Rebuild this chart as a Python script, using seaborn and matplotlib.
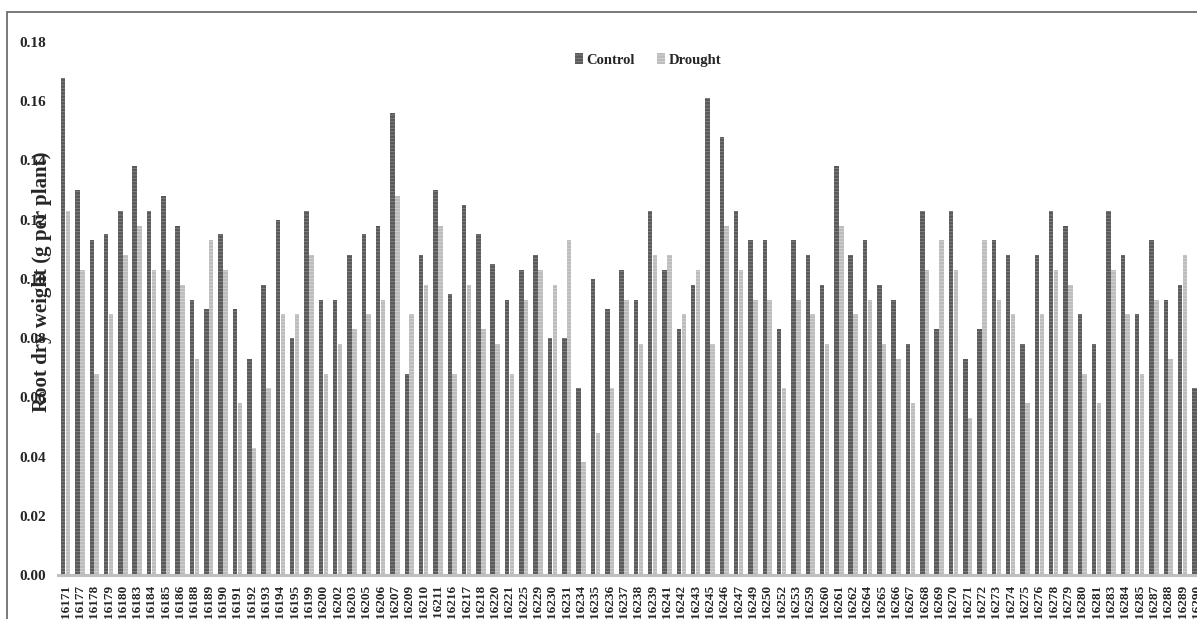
import matplotlib
matplotlib.use("Agg")
import matplotlib.pyplot as plt
from matplotlib.patches import Rectangle
import seaborn as sns
import pandas as pd

# genotypes on the x axis
lines = [
    "16171", "16177", "16178", "16179", "16180", "16183", "16184", "16185", "16186", "16188",
    "16189", "16190", "16191", "16192", "16193", "16194", "16195", "16199", "16200", "16202",
    "16203", "16205", "16206", "16207", "16209", "16210", "16211", "16216", "16217", "16218",
    "16220", "16221", "16225", "16229", "16230", "16231", "16234", "16235", "16236", "16237",
    "16238", "16239", "16241", "16242", "16243", "16245", "16246", "16247", "16249", "16250",
    "16252", "16253", "16259", "16260", "16261", "16262", "16264", "16265", "16266", "16267",
    "16268", "16269", "16270", "16271", "16272", "16273", "16274", "16275", "16276", "16278",
    "16279", "16280", "16281", "16283", "16284", "16285", "16287", "16288", "16289", "16290",
]

control = [
    0.168, 0.130, 0.113, 0.115, 0.123, 0.138, 0.123, 0.128, 0.118, 0.093,
    0.090, 0.115, 0.090, 0.073, 0.098, 0.120, 0.080, 0.123, 0.093, 0.093,
    0.108, 0.115, 0.118, 0.156, 0.068, 0.108, 0.130, 0.095, 0.125, 0.115,
    0.105, 0.093, 0.103, 0.108, 0.080, 0.080, 0.063, 0.100, 0.090, 0.103,
    0.093, 0.123, 0.103, 0.083, 0.098, 0.161, 0.148, 0.123, 0.113, 0.113,
    0.083, 0.113, 0.108, 0.098, 0.138, 0.108, 0.113, 0.098, 0.093, 0.078,
    0.123, 0.083, 0.123, 0.073, 0.083, 0.113, 0.108, 0.078, 0.108, 0.123,
    0.118, 0.088, 0.078, 0.123, 0.108, 0.088, 0.113, 0.093, 0.098, 0.063,
]

drought = [
    0.123, 0.103, 0.068, 0.088, 0.108, 0.118, 0.103, 0.103, 0.098, 0.073,
    0.113, 0.103, 0.058, 0.043, 0.063, 0.088, 0.088, 0.108, 0.068, 0.078,
    0.083, 0.088, 0.093, 0.128, 0.088, 0.098, 0.118, 0.068, 0.098, 0.083,
    0.078, 0.068, 0.093, 0.103, 0.098, 0.113, 0.038, 0.048, 0.063, 0.093,
    0.078, 0.108, 0.108, 0.088, 0.103, 0.078, 0.118, 0.103, 0.093, 0.093,
    0.063, 0.093, 0.088, 0.078, 0.118, 0.088, 0.093, 0.078, 0.073, 0.058,
    0.103, 0.113, 0.103, 0.053, 0.113, 0.093, 0.088, 0.058, 0.088, 0.103,
    0.098, 0.068, 0.058, 0.103, 0.088, 0.068, 0.093, 0.073, 0.108, 0.048,
]

yticks = [0.00, 0.02, 0.04, 0.06, 0.08, 0.10, 0.12, 0.14, 0.16, 0.18]

df = pd.DataFrame({
    "line": lines * 2,
    "weight": control + drought,
    "treatment": ["Control"] * len(lines) + ["Drought"] * len(lines),
})

sns.set_style("white")
plt.rcParams["font.family"] = ["Liberation Serif", "DejaVu Serif"]
plt.rcParams["font.weight"] = "bold"
plt.rcParams["hatch.linewidth"] = 0.6

W, H = 1197, 619
fig = plt.figure(figsize=(W / 100, H / 100), dpi=100)
# axes runs past the right edge, like the cropped original
ax = fig.add_axes([58.4 / W, 44 / H, 1145.6 / W, 533 / H])

sns.barplot(data=df, x="line", y="weight", hue="treatment", order=lines,
            palette={"Control": "#5a5a5a", "Drought": "#bcbcbc"},
            width=0.68, gap=0.08, errorbar=None, ax=ax)

for bar in ax.patches:
    dark = bar.get_facecolor()[0] < 0.5
    bar.set_hatch("-----")
    bar.set_edgecolor("#858585" if dark else "#d4d4d4")
    bar.set_linewidth(0)

ax.set_xlim(-0.5, len(lines) - 0.5)
ax.set_ylim(0, 0.18)
ax.set_yticks(yticks)
ax.set_yticklabels([f"{v:.2f}" for v in yticks], fontsize=11, fontweight="bold")
ax.set_xticks(range(len(lines)))
ax.set_xticklabels(lines, rotation=90, fontsize=9.5, fontweight="bold")
ax.tick_params(axis="y", length=0, pad=9)
ax.tick_params(axis="x", length=0, pad=7)

for side in ["top", "right", "left"]:
    ax.spines[side].set_visible(False)
ax.spines["bottom"].set_color("#bfbfbf")
ax.spines["bottom"].set_linewidth(2.2)

ax.set_xlabel("")
ax.set_ylabel("Root dry weight (g per plant)", fontsize=15, fontweight="bold")
ax.yaxis.set_label_coords(52 / W, 1 - 282 / H, transform=fig.transFigure)

handles, labels = ax.get_legend_handles_labels()
ax.legend(handles, labels, ncol=2, frameon=False, loc="center",
          bbox_to_anchor=(648 / W, 1 - 60 / H), bbox_transform=fig.transFigure,
          handlelength=0.55, handleheight=0.8, handletextpad=0.25, columnspacing=1.5,
          prop={"family": "Liberation Serif", "weight": "bold", "size": 10.5})

# outer chart border, cropped at right and bottom
fig.patches.append(Rectangle((7 / W, -0.1), 1.2, 1 - 12 / H + 0.1,
                             transform=fig.transFigure, fill=False,
                             edgecolor="#6e6e6e", linewidth=1.3, zorder=10))

fig.savefig("out.png", dpi=100)
plt.close(fig)
